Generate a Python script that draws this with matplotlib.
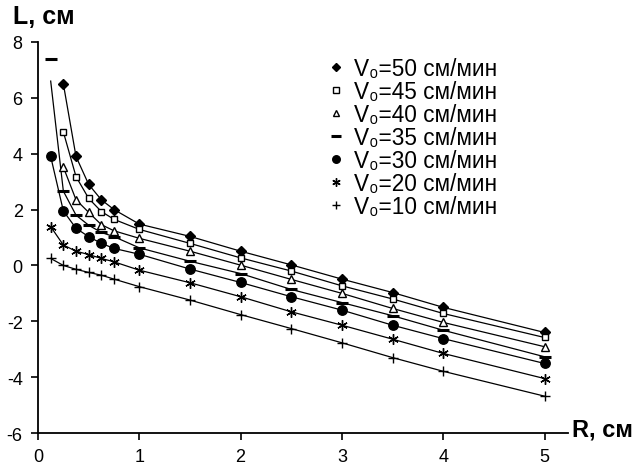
import matplotlib
matplotlib.use("Agg")
import matplotlib.pyplot as plt
from matplotlib.lines import Line2D

plt.rcParams['font.family'] = ['Liberation Sans', 'DejaVu Sans']
plt.rcParams['axes.unicode_minus'] = False

# R, cm
R = [0.125, 0.25, 0.375, 0.5, 0.625, 0.75, 1.0, 1.5, 2.0, 2.5, 3.0, 3.5, 4.0, 5.0]

# L, cm for each V0 (None = no point)
L50 = [None, 6.5, 3.9, 2.9, 2.35, 2.0, 1.48, 1.04, 0.51, 0.02, -0.49, -0.97, -1.5, -2.4]
L45 = [None, 4.78, 3.18, 2.4, 1.93, 1.65, 1.29, 0.79, 0.27, -0.2, -0.73, -1.2, -1.72, -2.58]
L40 = [None, 3.52, 2.35, 1.9, 1.46, 1.24, 0.97, 0.51, 0.01, -0.5, -1.0, -1.54, -2.04, -2.91]
L35 = [7.4, 2.66, 1.8, 1.44, 1.18, 1.03, 0.63, 0.15, -0.29, -0.86, -1.33, -1.8, -2.32, -3.27]
L30 = [3.9, 1.95, 1.33, 1.03, 0.79, 0.61, 0.4, -0.13, -0.61, -1.12, -1.6, -2.14, -2.62, -3.51]
L20 = [1.39, 0.73, 0.51, 0.39, 0.25, 0.13, -0.17, -0.62, -1.12, -1.66, -2.14, -2.64, -3.15, -4.05]
L10 = [0.25, 0.0, -0.14, -0.25, -0.35, -0.49, -0.76, -1.24, -1.76, -2.26, -2.77, -3.3, -3.79, -4.68]

# start of the calculated curve for V0=35 (differs from the measured point)
L35_line_start = 6.6

labels = ['50', '45', '40', '35', '30', '20', '10']
series = [L50, L45, L40, L35, L30, L20, L10]

styles = {
    '50': dict(marker='D', ms=4.6, mfc='black', mec='black'),
    '45': dict(marker='s', ms=5, mfc='white', mec='black', mew=1.0),
    '40': dict(marker='^', ms=6, mfc='white', mec='black', mew=1.0),
    '35': dict(marker='_', ms=8.5, mec='black', mew=2.2),
    '30': dict(marker='o', ms=6.8, mfc='black', mec='black'),
    '20': dict(marker=(6, 2, 0), ms=7.5, mec='black', mew=1.0),
    '10': dict(marker='+', ms=7.5, mec='black', mew=1.0),
}

fig = plt.figure(figsize=(6.38, 4.77), dpi=100)
ax = fig.add_axes([0.0596, 0.0901, 0.8304, 0.8198])

for lab, vals in zip(labels, series):
    xs = [r for r, v in zip(R, vals) if v is not None]
    ys = [v for v in vals if v is not None]
    line_ys = list(ys)
    if lab == '35':
        line_ys[0] = L35_line_start
    ax.plot(xs, line_ys, color='black', lw=0.9, zorder=2)
    ax.plot(xs, ys, ls='none', zorder=3, **styles[lab])

handles = []
for lab in labels:
    st = dict(styles[lab])
    st['ms'] = st['ms'] * 0.8
    handles.append(Line2D([], [], ls='none', **st))
leg = ax.legend(handles, ['V\u2080=%s см/мин' % l for l in labels],
                loc='upper left', bbox_to_anchor=(0.5435, 0.961), frameon=False,
                fontsize=16.3, handlelength=0.9, handletextpad=0.34,
                labelspacing=0.0, borderaxespad=0, borderpad=0)

ax.set_xlim(0, 5.23)
ax.set_ylim(-6, 8)
ax.set_xticks([0, 1, 2, 3, 4, 5])
ax.set_yticks([-6, -4, -2, 0, 2, 4, 6, 8])
ax.spines['top'].set_visible(False)
ax.spines['right'].set_visible(False)
ax.spines['left'].set_linewidth(1.3)
ax.spines['bottom'].set_linewidth(1.3)
ax.tick_params(direction='out', length=5, width=1.2, labelsize=13, pad=6)

fig.text(0.02, 0.964, 'L, см', fontsize=18, fontweight='bold', va='center', ha='left')
fig.text(0.896, 0.099, 'R, см', fontsize=17, fontweight='bold', va='center', ha='left')

fig.savefig('out.png', dpi=100)
